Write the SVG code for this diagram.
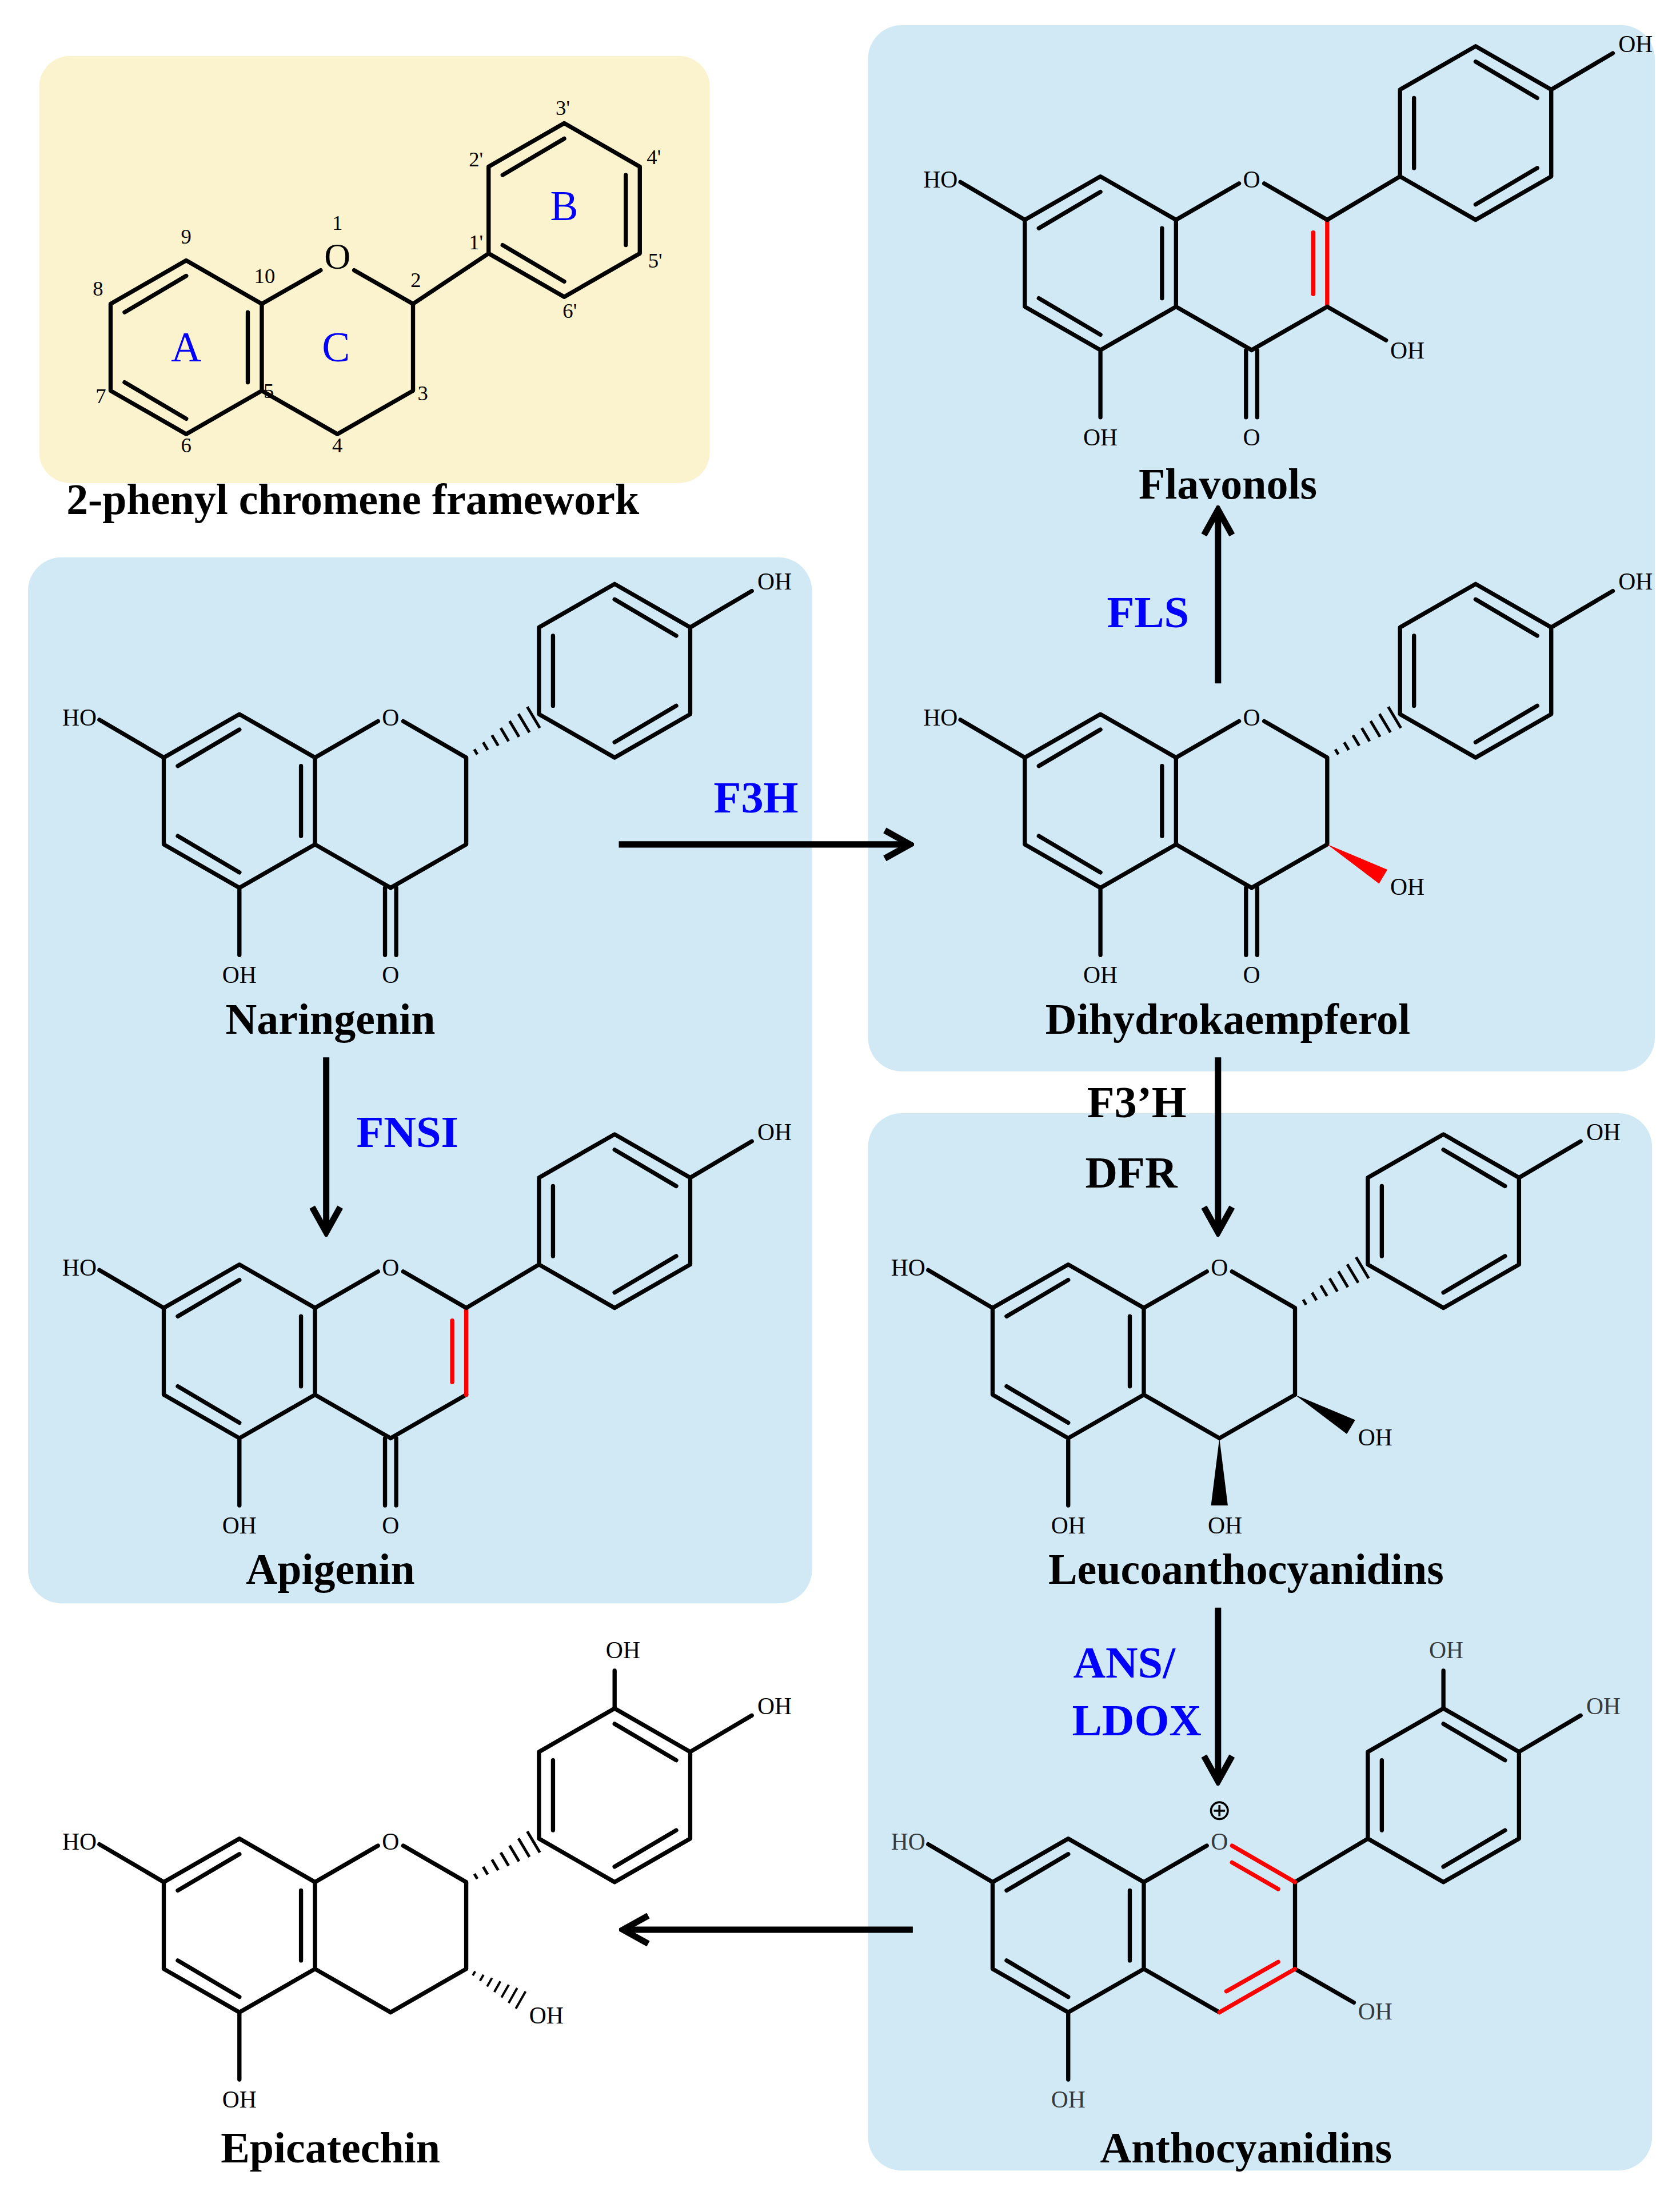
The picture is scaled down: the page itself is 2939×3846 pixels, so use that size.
<svg xmlns="http://www.w3.org/2000/svg" xmlns:xlink="http://www.w3.org/1999/xlink" width="2939" height="3846" viewBox="0 0 2939 3846">
<style>
.b{fill:none;stroke:#000;stroke-width:3;stroke-linecap:round;stroke-linejoin:round}
.r{fill:none;stroke:#f00;stroke-width:3;stroke-linecap:round}
.at{font-family:"Liberation Serif",serif;font-size:17px;fill:#000}
.num{font-family:"Liberation Serif",serif;font-size:15px;fill:#000;text-anchor:middle}
.lab{font-family:"Liberation Serif",serif;font-size:31px;font-weight:bold;fill:#000;text-anchor:middle}
.enz{font-family:"Liberation Serif",serif;font-size:32px;font-weight:bold;fill:#00f;text-anchor:middle}
.enzk{font-family:"Liberation Serif",serif;font-size:32px;font-weight:bold;fill:#000;text-anchor:middle}
.ring{font-family:"Liberation Serif",serif;font-size:30px;fill:#00f;text-anchor:middle}
.bigO{font-family:"Liberation Serif",serif;font-size:26px;fill:#000;text-anchor:middle}
.box{fill:#d0e9f5}
.arr{stroke:#000;stroke-width:4.5;fill:none;marker-end:url(#ah)}
</style>
<defs>
<marker id="ah" viewBox="0 0 24 24" refX="21" refY="12" markerWidth="24" markerHeight="24" markerUnits="userSpaceOnUse" orient="auto">
<path d="M3,2 L21,12 L3,22" fill="none" stroke="#000" stroke-width="4.5"/>
</marker>
<g id="coreA" class="b">
<path d="M-54,-31 L0,-62 L54,-31 L54,31 L0,62 L-54,31 Z M-44,-25 L0,-51 M44,-25 L44,25 M-44,25 L0,51 M-54,-31 L-100,-58 M0,62 L0,110 M54,-31 L99,-57 M54,31 L108,62"/>
</g>
<g id="ringB" class="b">
<path d="M214,-62 L214,-124 L268,-155 L322,-124 L322,-62 L268,-31 Z M224,-68 L224,-118 M268,-144 L312,-118 M312,-68 L268,-42 M322,-124 L366,-150"/>
</g>
<g id="hash" stroke="#000" stroke-width="2">
<path d="M8,-2.1 V2.1 M16,-3.2 V3.2 M24,-4.4 V4.4 M32,-5.5 V5.5 M40,-6.6 V6.6 M48,-7.7 V7.7 M56,-8.8 V8.8"/>
</g>
<path id="flavanone" class="b" d="M117,-57 L162,-31 L162,31 L108,62"/>
<g id="flavone"><path class="b" d="M117,-57 L162,-31 M162,31 L108,62"/><path class="r" d="M162,-31 L162,31 M152,-22 L152,22"/></g>
<path id="co" class="b" d="M104,62 L104,110 M112,62 L112,110"/>
</defs>
<g transform="scale(2.4492)">
<rect id="bg1" x="28" y="40" width="479" height="305" rx="22" fill="#fbf3cd"/>
<rect x="20" y="398" width="560" height="747" rx="24" class="box"/>
<rect x="620" y="18" width="562" height="747" rx="24" class="box"/>
<rect x="620" y="795" width="560" height="755" rx="24" class="box"/>

<g id="framework">
<path class="b" d="M133,186 L187,217 L187,279 L133,310 L79,279 L79,217 Z M89,223 L133,197 M177,223 L177,273 M89,273 L133,299 M187,217 L229,193 M253,193 L295,217 L295,279 L241,310 L187,279 M295,217 L349,181 M349,181 L349,119 L403,88 L457,119 L457,181 L403,212 Z M359,125 L403,99 M447,125 L447,175 M359,175 L403,201"/>
<text x="241" y="192" class="bigO">O</text>
<text x="241" y="164" class="num">1</text><text x="297" y="205" class="num">2</text><text x="302" y="286" class="num">3</text>
<text x="241" y="323" class="num">4</text><text x="192" y="284" class="num">5</text><text x="133" y="323" class="num">6</text>
<text x="72" y="288" class="num">7</text><text x="70" y="211" class="num">8</text><text x="133" y="174" class="num">9</text>
<text x="189" y="202" class="num">10</text><text x="340" y="178" class="num">1'</text><text x="340" y="119" class="num">2'</text>
<text x="402" y="82" class="num">3'</text><text x="467" y="117" class="num">4'</text><text x="468" y="191" class="num">5'</text><text x="407" y="227" class="num">6'</text>
<text x="133" y="258" class="ring">A</text><text x="240" y="258" class="ring">C</text><text x="403" y="157" class="ring">B</text>
<text x="252" y="367" class="lab">2-phenyl chromene framework</text>
</g>

<g id="naringenin" transform="translate(171,572)">
<use href="#coreA"/><use href="#flavanone"/><use href="#co"/><use href="#hash" transform="translate(162,-31) rotate(-30.8)"/><use href="#ringB"/>
<text x="-102" y="-54" class="at" text-anchor="end">HO</text><text x="0" y="130" class="at" text-anchor="middle">OH</text>
<text x="108" y="-54" class="at" text-anchor="middle">O</text><text x="108" y="130" class="at" text-anchor="middle">O</text>
<text x="370" y="-151" class="at">OH</text>
<text x="65" y="166" class="lab">Naringenin</text>
</g>

<g id="apigenin" transform="translate(171,965)">
<use href="#coreA"/><use href="#flavone"/><use href="#co"/><path class="b" d="M162,-31 L214,-62"/><use href="#ringB"/>
<text x="-102" y="-54" class="at" text-anchor="end">HO</text><text x="0" y="130" class="at" text-anchor="middle">OH</text>
<text x="108" y="-54" class="at" text-anchor="middle">O</text><text x="108" y="130" class="at" text-anchor="middle">O</text>
<text x="370" y="-151" class="at">OH</text>
<text x="65" y="166" class="lab">Apigenin</text>
</g>

<g id="dihydrokaempferol" transform="translate(786,572)">
<use href="#coreA"/><use href="#flavanone"/><use href="#co"/><use href="#hash" transform="translate(162,-31) rotate(-30.8)"/><use href="#ringB"/>
<polygon points="162,31 199,59 205,49" fill="#f00"/>
<text x="-102" y="-54" class="at" text-anchor="end">HO</text><text x="0" y="130" class="at" text-anchor="middle">OH</text>
<text x="108" y="-54" class="at" text-anchor="middle">O</text><text x="108" y="130" class="at" text-anchor="middle">O</text>
<text x="370" y="-151" class="at">OH</text><text x="207" y="67" class="at" fill="#f00">OH</text>
<text x="91" y="166" class="lab">Dihydrokaempferol</text>
</g>

<g id="flavonols" transform="translate(786,188)">
<use href="#coreA"/><use href="#flavone"/><use href="#co"/><path class="b" d="M162,-31 L214,-62 M162,31 L204,55"/><use href="#ringB"/>
<text x="-102" y="-54" class="at" text-anchor="end">HO</text><text x="0" y="130" class="at" text-anchor="middle">OH</text>
<text x="108" y="-54" class="at" text-anchor="middle">O</text><text x="108" y="130" class="at" text-anchor="middle">O</text>
<text x="370" y="-151" class="at">OH</text><text x="207" y="68" class="at">OH</text>
<text x="91" y="168" class="lab">Flavonols</text>
</g>

<g id="leucoanthocyanidins" transform="translate(763,965)">
<use href="#coreA"/><use href="#flavanone"/><use href="#hash" transform="translate(162,-31) rotate(-30.8)"/><use href="#ringB"/>
<polygon points="162,31 199,59 205,49" fill="#000"/><polygon points="108,62 102,110 114,110" fill="#000"/>
<text x="-102" y="-54" class="at" text-anchor="end">HO</text><text x="0" y="130" class="at" text-anchor="middle">OH</text>
<text x="108" y="-54" class="at" text-anchor="middle">O</text><text x="112" y="130" class="at" text-anchor="middle">OH</text>
<text x="370" y="-151" class="at">OH</text><text x="207" y="67" class="at">OH</text>
<text x="127" y="166" class="lab">Leucoanthocyanidins</text>
</g>

<g id="anthocyanidins" transform="translate(763,1375)">
<use href="#coreA"/><use href="#ringB"/>
<path class="b" d="M162,-31 L162,31 M162,-31 L214,-62 M162,31 L204,55 M268,-155 L268,-182"/>
<path class="r" d="M117,-57 L162,-31 M117,-45 L150,-26 M162,31 L108,62 M150,26 L113,47"/>
<circle cx="108" cy="-82" r="6" fill="none" stroke="#000" stroke-width="1.5"/><path d="M104,-82 H112 M108,-86 V-78" stroke="#000" stroke-width="1.5"/>
<g opacity="0.75">
<text x="-102" y="-54" class="at" text-anchor="end">HO</text><text x="0" y="130" class="at" text-anchor="middle">OH</text>
<text x="108" y="-54" class="at" text-anchor="middle">O</text>
<text x="370" y="-151" class="at">OH</text><text x="207" y="67" class="at">OH</text><text x="270" y="-191" class="at" text-anchor="middle">OH</text>
</g>
<text x="127" y="169" class="lab">Anthocyanidins</text>
</g>

<g id="epicatechin" transform="translate(171,1375)">
<use href="#coreA"/><use href="#flavanone"/><use href="#ringB"/>
<use href="#hash" transform="translate(162,-31) rotate(-30.8)"/><use href="#hash" transform="translate(162,31) rotate(29.7) scale(0.8)"/>
<path class="b" d="M268,-155 L268,-182"/>
<text x="-102" y="-54" class="at" text-anchor="end">HO</text><text x="0" y="130" class="at" text-anchor="middle">OH</text>
<text x="108" y="-54" class="at" text-anchor="middle">O</text>
<text x="370" y="-151" class="at">OH</text><text x="207" y="70" class="at">OH</text><text x="274" y="-191" class="at" text-anchor="middle">OH</text>
<text x="65" y="169" class="lab">Epicatechin</text>
</g>

<g id="connectors">
<path class="arr" d="M442,603 H650"/>
<path class="arr" d="M233,755 V880"/>
<path class="arr" d="M870,488 V364"/>
<path class="arr" d="M870,755 V880"/>
<path class="arr" d="M870,1148 V1272"/>
<path class="arr" d="M652,1378 H445"/>
</g>
<g id="enzymes">
<text x="540" y="580" class="enz">F3H</text>
<text x="291" y="819" class="enz">FNSI</text>
<text x="820" y="448" class="enz">FLS</text>
<text x="812" y="798" class="enzk">F3’H</text>
<text x="808" y="848" class="enzk">DFR</text>
<text x="803" y="1198" class="enz">ANS/</text>
<text x="812" y="1239" class="enz">LDOX</text>
</g>
</g>
</svg>
